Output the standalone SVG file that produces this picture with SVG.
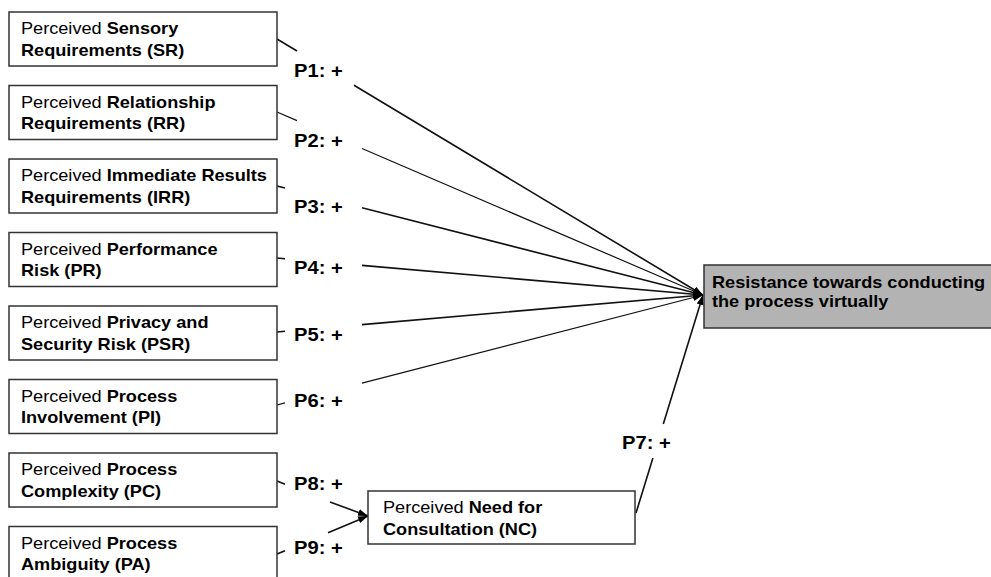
<svg xmlns="http://www.w3.org/2000/svg" width="991" height="577" viewBox="0 0 991 577">
  <style>
    .box { fill: #ffffff; stroke: #333333; stroke-width: 1.5; }
    .goal { fill: #b3b3b3; stroke: #333333; stroke-width: 1.5; }
    text { font-family: "Liberation Sans", Arial, sans-serif; font-size: 16.5px; fill: #000000; }
    .b { font-weight: bold; }
    .lbl { font-weight: bold; font-size: 18px; }
    .edge { fill: none; stroke: #111111; stroke-width: 1.6; }
  </style>
  <defs>
    <marker id="arrow" markerUnits="userSpaceOnUse" markerWidth="11" markerHeight="8" refX="10" refY="4" orient="auto">
      <path d="M0,0.5 L10,4 L0,7.5 z" fill="#000000"/>
    </marker>
  </defs>

  <!-- connectors: each path is interrupted where its proposition label sits -->
  <g id="connectors">
    <path class="edge" d="M277,39 L297,51 M354,85.3 L703,295" marker-end="url(#arrow)"/>
    <path class="edge" d="M277,112 L297,120.6 M362,148.5 L703,295" marker-end="url(#arrow)" style="stroke-width:1.2"/>
    <path class="edge" d="M277,186 L285,188 M362,207.8 L703,295" marker-end="url(#arrow)"/>
    <path class="edge" d="M277,258 L285,258.7 M362,265.4 L703,295" marker-end="url(#arrow)"/>
    <path class="edge" d="M277,332 L285,331.3 M362,324.6 L703,295" marker-end="url(#arrow)"/>
    <path class="edge" d="M277,405 L285,402.9 M362,383.1 L703,295" marker-end="url(#arrow)" style="stroke-width:1.2"/>
    <path class="edge" d="M636,513 L652.9,458 M663.3,424 L703,295" marker-end="url(#arrow)"/>
    <path class="edge" d="M277,481 L285,484.2 M330,502 L368,516" marker-end="url(#arrow)"/>
    <path class="edge" d="M277,554 L285,550.7 M328,532.7 L368,516" marker-end="url(#arrow)"/>
  </g>

  <!-- proposition labels -->
  <g id="labels">
    <text class="lbl" transform="translate(294,77) scale(1.12,1)">P1: +</text>
    <text class="lbl" transform="translate(294,147) scale(1.12,1)">P2: +</text>
    <text class="lbl" transform="translate(294,213) scale(1.12,1)">P3: +</text>
    <text class="lbl" transform="translate(294,274) scale(1.12,1)">P4: +</text>
    <text class="lbl" transform="translate(294,341) scale(1.12,1)">P5: +</text>
    <text class="lbl" transform="translate(294,407) scale(1.12,1)">P6: +</text>
    <text class="lbl" transform="translate(622,449) scale(1.12,1)">P7: +</text>
    <text class="lbl" transform="translate(294,490) scale(1.12,1)">P8: +</text>
    <text class="lbl" transform="translate(294,554) scale(1.12,1)">P9: +</text>
  </g>

  <g id="SR">
    <rect class="box" x="9" y="12" width="268" height="54"/>
    <text transform="translate(21,34) scale(1.1,1)"><tspan x="0">Perceived <tspan class="b">Sensory</tspan></tspan><tspan class="b" x="0" y="22">Requirements (SR)</tspan></text>
  </g>
  <g id="RR">
    <rect class="box" x="9" y="85.5" width="268" height="54"/>
    <text transform="translate(21,107.5) scale(1.1,1)"><tspan x="0">Perceived <tspan class="b">Relationship</tspan></tspan><tspan class="b" x="0" y="22">Requirements (RR)</tspan></text>
  </g>
  <g id="IRR">
    <rect class="box" x="9" y="159" width="268" height="54"/>
    <text transform="translate(21,181) scale(1.1,1)"><tspan x="0">Perceived <tspan class="b">Immediate Results</tspan></tspan><tspan class="b" x="0" y="22">Requirements (IRR)</tspan></text>
  </g>
  <g id="PR">
    <rect class="box" x="9" y="232.5" width="268" height="54"/>
    <text transform="translate(21,254.5) scale(1.1,1)"><tspan x="0">Perceived <tspan class="b">Performance</tspan></tspan><tspan class="b" x="0" y="22">Risk (PR)</tspan></text>
  </g>
  <g id="PSR">
    <rect class="box" x="9" y="306" width="268" height="54"/>
    <text transform="translate(21,328) scale(1.1,1)"><tspan x="0">Perceived <tspan class="b">Privacy and</tspan></tspan><tspan class="b" x="0" y="22">Security Risk (PSR)</tspan></text>
  </g>
  <g id="PI">
    <rect class="box" x="9" y="379.5" width="268" height="54"/>
    <text transform="translate(21,401.5) scale(1.1,1)"><tspan x="0">Perceived <tspan class="b">Process</tspan></tspan><tspan class="b" x="0" y="22">Involvement (PI)</tspan></text>
  </g>
  <g id="PC">
    <rect class="box" x="9" y="453" width="268" height="54"/>
    <text transform="translate(21,475) scale(1.1,1)"><tspan x="0">Perceived <tspan class="b">Process</tspan></tspan><tspan class="b" x="0" y="22">Complexity (PC)</tspan></text>
  </g>
  <g id="PA">
    <rect class="box" x="9" y="526.5" width="268" height="54"/>
    <text transform="translate(21,548.5) scale(1.1,1)"><tspan x="0">Perceived <tspan class="b">Process</tspan></tspan><tspan class="b" x="0" y="22">Ambiguity (PA)</tspan></text>
  </g>
  <g id="NC">
    <rect class="box" x="368" y="491" width="267" height="53"/>
    <text transform="translate(383,513) scale(1.1,1)"><tspan x="0">Perceived <tspan class="b">Need for</tspan></tspan><tspan class="b" x="0" y="22">Consultation (NC)</tspan></text>
  </g>
  <g id="resistance">
    <rect class="goal" x="704" y="265" width="300" height="63"/>
    <text class="b" transform="translate(712,288) scale(1.1,1)"><tspan x="0">Resistance towards conducting</tspan><tspan x="0" y="19">the process virtually</tspan></text>
  </g>
</svg>
